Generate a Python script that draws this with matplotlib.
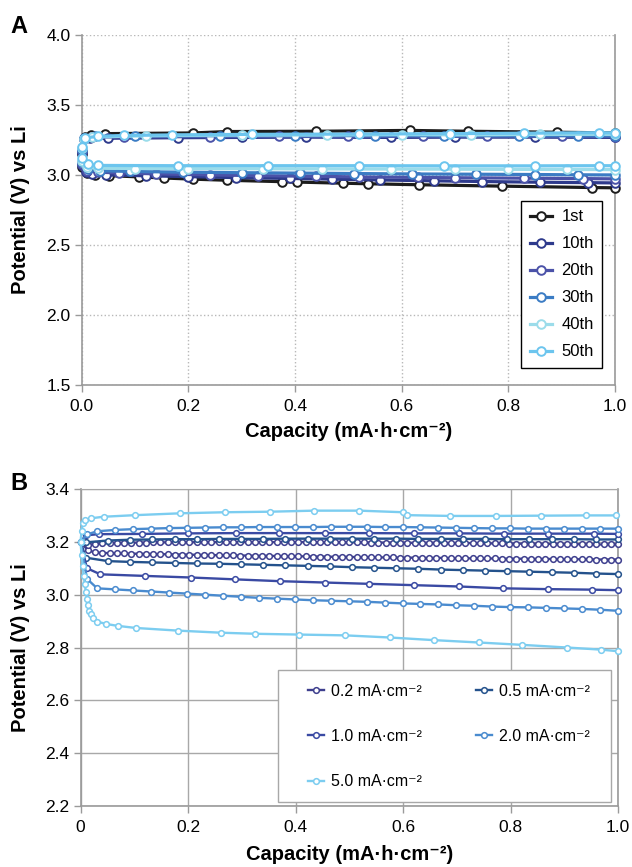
import numpy as np
import matplotlib
matplotlib.use("Agg")
import matplotlib.pyplot as plt
from matplotlib.patches import Rectangle

plt.rcParams["font.family"] = ["Liberation Sans", "DejaVu Sans"]

# ---- panel A: cycling at fixed rate, discharge (lower) and charge (upper) ----
A_CYCLES = ["1st", "10th", "20th", "30th", "40th", "50th"]
A_COLORS = ["#1c1c1c", "#2e3a8c", "#4b52a8", "#3b7cc4", "#9bdcea", "#6cc5ee"]

A_DIS_X = [
    [0.0, 0.01, 0.024, 0.052, 0.107, 0.155, 0.208, 0.273, 0.375, 0.404, 0.49, 0.536, 0.632, 0.789, 0.956, 1.0],
    [0.0, 0.008, 0.02, 0.045, 0.12, 0.2, 0.29, 0.39, 0.47, 0.56, 0.66, 0.75, 0.86, 0.95, 1.0],
    [0.0, 0.01, 0.03, 0.07, 0.14, 0.24, 0.33, 0.44, 0.52, 0.63, 0.7, 0.83, 0.94, 1.0],
    [0.0, 0.012, 0.035, 0.09, 0.19, 0.3, 0.41, 0.51, 0.62, 0.74, 0.85, 0.93, 1.0],
    [0.0, 0.01, 0.03, 0.1, 0.2, 0.34, 0.45, 0.58, 0.7, 0.8, 0.91, 1.0],
    [0.0, 0.012, 0.03, 0.18, 0.35, 0.52, 0.68, 0.85, 0.97, 1.0],
]
A_DIS_Y = [
    [3.06, 3.015, 3.0, 2.995, 2.986, 2.978, 2.97, 2.962, 2.952, 2.949, 2.941, 2.937, 2.93, 2.92, 2.91, 2.908],
    [3.07, 3.02, 3.008, 3.0, 2.994, 2.988, 2.981, 2.975, 2.97, 2.964, 2.958, 2.953, 2.948, 2.945, 2.943],
    [3.08, 3.03, 3.02, 3.014, 3.008, 3.0, 2.995, 2.99, 2.986, 2.982, 2.98, 2.977, 2.974, 2.972],
    [3.09, 3.04, 3.03, 3.025, 3.02, 3.016, 3.013, 3.01, 3.007, 3.005, 3.003, 3.001, 3.0],
    [3.1, 3.055, 3.048, 3.046, 3.045, 3.044, 3.043, 3.042, 3.041, 3.04, 3.039, 3.038],
    [3.12, 3.075, 3.068, 3.066, 3.066, 3.066, 3.065, 3.065, 3.066, 3.066],
]
A_CHG_X = [
    [0.0, 0.006, 0.017, 0.043, 0.209, 0.273, 0.44, 0.615, 0.725, 0.892, 1.0],
    [0.0, 0.005, 0.015, 0.05, 0.18, 0.3, 0.42, 0.58, 0.7, 0.85, 1.0],
    [0.0, 0.005, 0.02, 0.08, 0.24, 0.37, 0.5, 0.64, 0.76, 0.9, 1.0],
    [0.0, 0.005, 0.025, 0.1, 0.26, 0.4, 0.55, 0.68, 0.82, 0.93, 1.0],
    [0.0, 0.005, 0.02, 0.12, 0.3, 0.46, 0.6, 0.73, 0.86, 1.0],
    [0.0, 0.006, 0.03, 0.08, 0.17, 0.32, 0.52, 0.69, 0.83, 0.97, 1.0],
]
A_CHG_Y = [
    [3.15, 3.27, 3.288, 3.295, 3.30, 3.31, 3.312, 3.318, 3.312, 3.305, 3.30],
    [3.16, 3.255, 3.265, 3.262, 3.266, 3.268, 3.27, 3.268, 3.27, 3.27, 3.268],
    [3.17, 3.26, 3.27, 3.272, 3.274, 3.275, 3.275, 3.276, 3.275, 3.275, 3.274],
    [3.18, 3.265, 3.275, 3.278, 3.28, 3.28, 3.281, 3.28, 3.28, 3.28, 3.279],
    [3.19, 3.26, 3.27, 3.28, 3.285, 3.285, 3.288, 3.286, 3.29, 3.29],
    [3.2, 3.265, 3.275, 3.282, 3.286, 3.29, 3.292, 3.295, 3.298, 3.302, 3.3],
]

# ---- panel B: rate capability ----
B_RATES = ["0.2 mA\u00b7cm\u207b\u00b2", "0.5 mA\u00b7cm\u207b\u00b2", "1.0 mA\u00b7cm\u207b\u00b2",
           "2.0 mA\u00b7cm\u207b\u00b2", "5.0 mA\u00b7cm\u207b\u00b2"]
B_COLORS = ["#3e3f8e", "#24528c", "#3a4aa3", "#4a8bcf", "#7ccdf0"]

# 0.2 mA/cm2 sampled evenly over the whole capacity
B02_X = np.linspace(0.0, 1.0, 75)
B02_DIS = [3.200, 3.168, 3.160, 3.158, 3.157, 3.156, 3.156, 3.155, 3.155, 3.154,
           3.154, 3.153, 3.153, 3.152, 3.152, 3.151, 3.151, 3.150, 3.150, 3.149,
           3.149, 3.149, 3.148, 3.148, 3.147, 3.147, 3.147, 3.146, 3.146, 3.145,
           3.145, 3.145, 3.144, 3.144, 3.144, 3.143, 3.143, 3.143, 3.142, 3.142,
           3.142, 3.141, 3.141, 3.141, 3.140, 3.140, 3.140, 3.139, 3.139, 3.139,
           3.139, 3.138, 3.138, 3.138, 3.137, 3.137, 3.137, 3.137, 3.136, 3.136,
           3.136, 3.136, 3.135, 3.135, 3.135, 3.135, 3.134, 3.134, 3.134, 3.134,
           3.134, 3.133, 3.133, 3.133, 3.133]
B02_CHG = [3.200, 3.188, 3.192, 3.194, 3.195, 3.196, 3.196, 3.197, 3.197, 3.197,
           3.198, 3.198, 3.198, 3.198, 3.198, 3.198, 3.199, 3.199, 3.199, 3.199,
           3.199, 3.199, 3.199, 3.199, 3.199, 3.199, 3.199, 3.199, 3.199, 3.199,
           3.199, 3.199, 3.198, 3.198, 3.198, 3.198, 3.198, 3.198, 3.198, 3.198,
           3.197, 3.197, 3.197, 3.197, 3.197, 3.196, 3.196, 3.196, 3.196, 3.196,
           3.195, 3.195, 3.195, 3.195, 3.195, 3.194, 3.194, 3.194, 3.194, 3.193,
           3.193, 3.193, 3.193, 3.192, 3.192, 3.192, 3.192, 3.191, 3.191, 3.191,
           3.191, 3.190, 3.190, 3.190, 3.190]

B05_X = np.r_[0.0, np.linspace(0.01, 1.0, 25)]
B05_DIS = [3.200, 3.140, 3.127, 3.124, 3.122, 3.120, 3.118, 3.117, 3.115, 3.113,
           3.111, 3.109, 3.107, 3.104, 3.102, 3.100, 3.098, 3.095, 3.093, 3.091,
           3.089, 3.087, 3.085, 3.083, 3.080, 3.078]
B05_CHG = [3.200, 3.198, 3.205, 3.208, 3.209, 3.210, 3.210, 3.211, 3.211, 3.211,
           3.212, 3.212, 3.212, 3.212, 3.212, 3.212, 3.211, 3.211, 3.211, 3.211,
           3.210, 3.210, 3.210, 3.210, 3.209, 3.209]

B10_DIS_X = [0.0, 0.012, 0.037, 0.12, 0.205, 0.287, 0.372, 0.454, 0.537, 0.62, 0.704, 0.786, 0.869, 0.952, 1.0]
B10_DIS = [3.20, 3.10, 3.077, 3.071, 3.065, 3.058, 3.051, 3.046, 3.041, 3.036, 3.031, 3.024, 3.021, 3.019, 3.017]
B10_CHG_X = [0.0, 0.01, 0.035, 0.115, 0.2, 0.29, 0.37, 0.455, 0.537, 0.62, 0.705, 0.788, 0.87, 0.955, 1.0]
B10_CHG = [3.20, 3.225, 3.229, 3.230, 3.232, 3.233, 3.233, 3.233, 3.233, 3.232, 3.232, 3.231, 3.231, 3.231, 3.230]

B20_X = np.r_[0.0, 0.012, np.linspace(0.031, 1.0, 30)]
B20_DIS = [3.200, 3.060, 3.024, 3.020, 3.016, 3.012, 3.008, 3.004, 3.000, 2.996,
           2.992, 2.988, 2.985, 2.982, 2.979, 2.977, 2.975, 2.973, 2.970, 2.967,
           2.965, 2.963, 2.960, 2.958, 2.955, 2.953, 2.952, 2.950, 2.948, 2.946,
           2.943, 2.939]
B20_CHG = [3.200, 3.228, 3.240, 3.245, 3.248, 3.250, 3.252, 3.253, 3.254, 3.255,
           3.255, 3.256, 3.256, 3.256, 3.256, 3.257, 3.257, 3.257, 3.256, 3.256,
           3.255, 3.254, 3.253, 3.252, 3.251, 3.251, 3.250, 3.250, 3.250, 3.250,
           3.250, 3.250]

B50_DIS_X = [0.0, 0.002, 0.004, 0.006, 0.008, 0.010, 0.012, 0.014, 0.016, 0.019,
             0.023, 0.031, 0.048, 0.069, 0.103, 0.181, 0.262, 0.325, 0.407, 0.492,
             0.575, 0.657, 0.741, 0.822, 0.905, 0.968, 1.0]
B50_DIS = [3.20, 3.15, 3.11, 3.07, 3.04, 3.01, 2.985, 2.96, 2.94, 2.925,
           2.912, 2.898, 2.889, 2.882, 2.874, 2.864, 2.856, 2.852, 2.849, 2.846,
           2.838, 2.828, 2.819, 2.81, 2.80, 2.792, 2.786]
B50_CHG_X = [0.0, 0.002, 0.004, 0.009, 0.019, 0.043, 0.102, 0.186, 0.269, 0.352,
             0.435, 0.519, 0.600, 0.607, 0.688, 0.773, 0.856, 0.94, 0.997]
B50_CHG = [3.20, 3.24, 3.27, 3.282, 3.289, 3.295, 3.301, 3.308, 3.312, 3.314,
           3.318, 3.318, 3.312, 3.301, 3.298, 3.298, 3.299, 3.300, 3.300]

B_SERIES = [
    ((B02_X, B02_DIS), (B02_X, B02_CHG)),
    ((B05_X, B05_DIS), (B05_X, B05_CHG)),
    ((B10_DIS_X, B10_DIS), (B10_CHG_X, B10_CHG)),
    ((B20_X, B20_DIS), (B20_X, B20_CHG)),
    ((B50_DIS_X, B50_DIS), (B50_CHG_X, B50_CHG)),
]

GRID = "#b8b8b8"
SPINE = "#9a9a9a"


def style_axis(ax, dotted):
    ax.grid(True, color=GRID if dotted else "#a8a8a8", linestyle=":" if dotted else "-",
            linewidth=1.0, zorder=0)
    ax.set_axisbelow(True)
    for side in ("left", "bottom", "right"):
        ax.spines[side].set_color(SPINE)
        ax.spines[side].set_linewidth(1.2)
    ax.spines["top"].set_visible(False)
    ax.tick_params(direction="out", length=5, width=1.0, color=SPINE, labelsize=12.5, pad=3)
    ax.tick_params(axis="x", pad=5)


fig = plt.figure(figsize=(6.32, 8.67), dpi=100)

# panel A
ax1 = fig.add_axes([0.1293, 0.556, 0.8438, 0.4037])
for i, name in enumerate(A_CYCLES):
    xs = list(reversed(A_DIS_X[i])) + A_CHG_X[i]
    ys = list(reversed(A_DIS_Y[i])) + A_CHG_Y[i]
    ax1.plot(xs, ys, color=A_COLORS[i], lw=2.3, marker="o", ms=6.2, mfc="white",
             mec=A_COLORS[i], mew=1.4, label=name, zorder=3 + i, clip_on=False)
ax1.set_xlim(0, 1.0)
ax1.set_ylim(1.5, 4.0)
ax1.set_xticks(np.arange(0, 1.01, 0.2))
ax1.set_xticklabels([f"{v:.1f}" for v in np.arange(0, 1.01, 0.2)])
ax1.set_yticks(np.arange(1.5, 4.01, 0.5))
ax1.set_yticklabels([f"{v:.1f}" for v in np.arange(1.5, 4.01, 0.5)])
style_axis(ax1, dotted=True)
ax1.set_xlabel("Capacity (mA\u00b7h\u00b7cm\u207b\u00b2)", fontsize=14.5, fontweight="bold", labelpad=6)
ax1.set_ylabel("Potential (V) vs Li", fontsize=14.5, fontweight="bold")
ax1.yaxis.set_label_coords(-0.097, 0.5)
leg1 = ax1.legend(loc="lower right", bbox_to_anchor=(0.976, 0.049), fontsize=12,
                  frameon=True, fancybox=False, edgecolor="black", framealpha=1,
                  borderpad=0.5, handlelength=1.35, handletextpad=0.55, labelspacing=0.72,
                  borderaxespad=0)
leg1.get_frame().set_linewidth(1.0)
fig.text(0.016, 0.962, "A", fontsize=17, fontweight="bold")

# panel B
ax2 = fig.add_axes([0.1274, 0.0703, 0.8505, 0.3657])
handles = []
for i, name in enumerate(B_RATES):
    (dx, dy), (cx, cy) = B_SERIES[i]
    kw = dict(color=B_COLORS[i], lw=1.7, marker="o", ms=4.1, mfc="white",
              mec=B_COLORS[i], mew=1.1, zorder=3 + i, clip_on=False)
    ax2.plot(dx, dy, **kw)
    h, = ax2.plot(cx, cy, label=name, **kw)
    handles.append(h)
ax2.set_xlim(0, 1.0)
ax2.set_ylim(2.2, 3.4)
ax2.set_xticks(np.arange(0, 1.01, 0.2))
ax2.set_xticklabels(["0", "0.2", "0.4", "0.6", "0.8", "1.0"])
ax2.set_yticks(np.arange(2.2, 3.41, 0.2))
ax2.set_yticklabels([f"{v:.1f}" for v in np.arange(2.2, 3.41, 0.2)])
style_axis(ax2, dotted=False)
ax2.spines["top"].set_visible(True)
ax2.spines["top"].set_color("#a8a8a8")
ax2.set_xlabel("Capacity (mA\u00b7h\u00b7cm\u207b\u00b2)", fontsize=14.5, fontweight="bold", labelpad=7)
ax2.set_ylabel("Potential (V) vs Li", fontsize=14.5, fontweight="bold")
ax2.yaxis.set_label_coords(-0.094, 0.5)

ax2.add_patch(Rectangle((0.367, 0.0126), 0.62, 0.4164, transform=ax2.transAxes,
                        facecolor="white", edgecolor="#a8a8a8", lw=1.0, zorder=20))
order = [0, 2, 4, 1, 3]
leg2 = ax2.legend([handles[k] for k in order], [B_RATES[k] for k in order],
                  loc="upper left", bbox_to_anchor=(0.423, 0.386), ncol=2, fontsize=11.5,
                  frameon=False, borderpad=0, borderaxespad=0, handlelength=1.0,
                  handletextpad=0.45, columnspacing=3.4, labelspacing=1.9)
leg2.set_zorder(21)
fig.text(0.016, 0.435, "B", fontsize=17, fontweight="bold")

fig.savefig("out.png", dpi=100)
